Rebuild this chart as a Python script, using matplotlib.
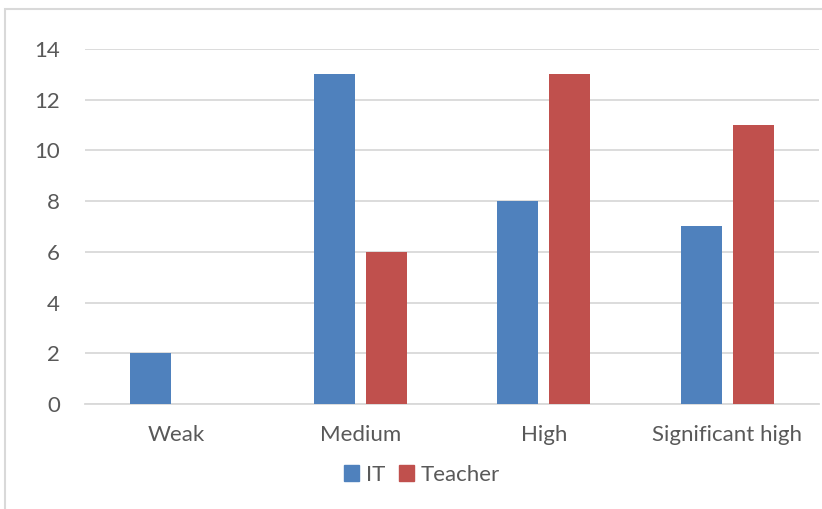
import matplotlib
matplotlib.use("Agg")
import matplotlib.pyplot as plt
import numpy as np
from matplotlib.patches import Rectangle, Patch

categories = ["Weak", "Medium", "High", "Significant high"]
it_values = [2, 13, 8, 7]
teacher_values = [0, 6, 13, 11]
yticks = [0, 2, 4, 6, 8, 10, 12, 14]

blue = "#4F81BD"
red = "#C0504D"
text_color = "#595959"
grid_color = "#D9D9D9"

plt.rcParams['font.family'] = ['Lato', 'DejaVu Sans']

W, H = 822, 509
fig = plt.figure(figsize=(W / 100, H / 100), dpi=100)
ax = fig.add_axes([85 / W, 1 - 404 / H, (819 - 85) / W, (404 - 49) / H])

x = np.arange(len(categories))
bw = 0.223
off = 0.142
ax.bar(x - off, it_values, width=bw, color=blue, label="IT", zorder=3)
ax.bar(x + off, teacher_values, width=bw, color=red, label="Teacher", zorder=3)

ax.set_xlim(-0.5, len(categories) - 0.5)
ax.set_ylim(0, 14)
ax.set_yticks(yticks)
ax.set_xticks(x)
ax.set_xticklabels(categories)
ax.yaxis.grid(True, color=grid_color, linewidth=1.3, zorder=0)
ax.set_axisbelow(True)
for s in ["top", "right", "left"]:
    ax.spines[s].set_visible(False)
ax.spines["bottom"].set_color(grid_color)
ax.spines["bottom"].set_linewidth(1.3)
ax.tick_params(axis="both", length=0, labelsize=16, colors=text_color)
ax.tick_params(axis="y", pad=18)
ax.tick_params(axis="x", pad=15)

handles = [Patch(color=blue), Patch(color=red)]
leg = fig.legend(handles, ["IT", "Teacher"], loc="center", bbox_to_anchor=(422 / W, 1 - 475 / H),
                 ncol=2, frameon=False, fontsize=16, handlelength=0.7, handleheight=0.7,
                 handletextpad=0.3, columnspacing=0.6, labelcolor=text_color)

# chart border
fig.add_artist(Rectangle((4.5 / W, -0.1), 1.2, (1 - 8.5 / H) + 0.1, transform=fig.transFigure,
                         fill=False, edgecolor="#D9D9D9", linewidth=1.5))

fig.savefig("out.png", dpi=100)
